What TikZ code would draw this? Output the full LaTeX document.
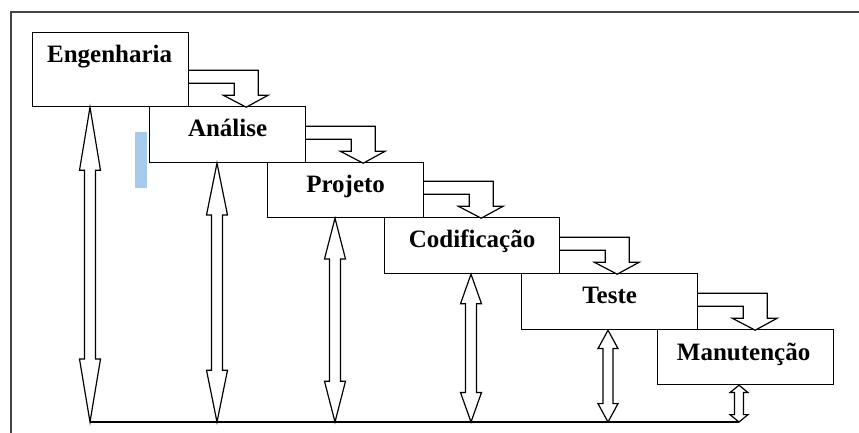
\documentclass[tikz,border=0pt]{standalone}
\usepackage{fontspec}
\setmainfont{Liberation Serif}
\usetikzlibrary{calc}
\definecolor{framegray}{HTML}{444444}
\definecolor{marker}{HTML}{A6CAEC}
\tikzset{
  stagebox/.style={draw=black, line width=1.2pt, fill=white, inner sep=0pt, anchor=north west},
  stagelbl/.style={anchor=base, inner sep=0pt, font=\bfseries\fontsize{25}{29}\selectfont},
  blockarrow/.style={draw=black, line width=1.2pt, fill=white, line join=miter},
  frameline/.style={draw=framegray, line width=2pt},
}
% vertical double block arrow: #1 top coordinate, #2 bottom coordinate, #3 head half width, #4 shaft half width
\newcommand\vdouble[4]{%
  \draw[blockarrow] let \p1=(#1), \p2=(#2), \n1={0.2*(\y1-\y2)} in
    (\x1,\y1) -- (\x1+#3,{\y1-\n1}) -- (\x1+#4,{\y1-\n1}) -- (\x1+#4,{\y2+\n1})
    -- (\x1+#3,{\y2+\n1}) -- (\x1,\y2) -- (\x1-#3,{\y2+\n1}) -- (\x1-#4,{\y2+\n1})
    -- (\x1-#4,{\y1-\n1}) -- (\x1-#3,{\y1-\n1}) -- cycle;}
% bent block arrow from the right side of box #1 down to the next box
\newcommand\flowarrow[1]{%
  \draw[blockarrow] ($(#1.south east)+(0,-24)$) -- ++(45,0) -- ++(0,12) -- ++(-11,0)
    -- ++(23,12) -- ++(22,-12) -- ++(-10,0) -- ++(0,-25) -- ++(-69,0);}
\begin{document}
\begin{tikzpicture}[x=1pt,y=-1pt]
\useasboundingbox (0,0) rectangle (859,433);
\fill[white] (0,0) rectangle (859,433);
% frame
\draw[frameline] (11,433) -- (11,12) -- (859,12);
% highlight mark
\fill[marker] (135,132) rectangle (147,188);
% stages
\node[stagebox, minimum width=156pt, minimum height=74pt] (eng) at (32,32) {};
\node[stagebox, minimum width=156pt, minimum height=56pt] (ana) at (149,106) {};
\node[stagebox, minimum width=156pt, minimum height=55pt] (proj) at (267,162) {};
\node[stagebox, minimum width=175pt, minimum height=56pt] (cod) at (384,217) {};
\node[stagebox, minimum width=176pt, minimum height=56pt] (tes) at (521,273) {};
\node[stagebox, minimum width=176pt, minimum height=55pt] (man) at (657,329) {};
\node[stagelbl] (engt) at ($(eng.north)+(-1,31)$) {Engenharia};
\node[stagelbl] (anat) at ($(ana.north)+(0,30)$) {Análise};
\node[stagelbl] (projt) at ($(proj.north)+(0,30)$) {Projeto};
\node[stagelbl] (codt) at ($(cod.north)+(0,30)$) {Codificação};
\node[stagelbl] (test) at ($(tes.north)+(0,30)$) {Teste};
\node[stagelbl] (mant) at ($(man.north)+(-2,31)$) {Manutenção};
% flow arrows
\flowarrow{eng}
\flowarrow{ana}
\flowarrow{proj}
\flowarrow{cod}
\flowarrow{tes}
% vertical feedback arrows
\coordinate (base) at (0,422);
\coordinate (t1) at ($(eng.south west)+(58,0)$);
\coordinate (t2) at ($(ana.south west)+(68,0)$);
\coordinate (t3) at ($(proj.south west)+(68,0)$);
\coordinate (t4) at ($(cod.south west)+(87,0)$);
\coordinate (t5) at ($(tes.south west)+(87,0)$);
\coordinate (t6) at ($(man.south west)+(82,0)$);
\coordinate (b1) at (t1 |- base);
\coordinate (b2) at (t2 |- base);
\coordinate (b3) at (t3 |- base);
\coordinate (b4) at (t4 |- base);
\coordinate (b5) at (t5 |- base);
\coordinate (b6) at (t6 |- base);
\draw[black, line width=1.2pt] (b1) -- (b6);
\vdouble{t1}{b1}{10.5pt}{5.5pt}
\vdouble{t2}{b2}{10.5pt}{5.5pt}
\vdouble{t3}{b3}{10.5pt}{5.5pt}
\vdouble{t4}{b4}{10.5pt}{5.5pt}
\vdouble{t5}{b5}{10pt}{5pt}
\vdouble{t6}{b6}{9pt}{4.5pt}
\end{tikzpicture}
\end{document}
